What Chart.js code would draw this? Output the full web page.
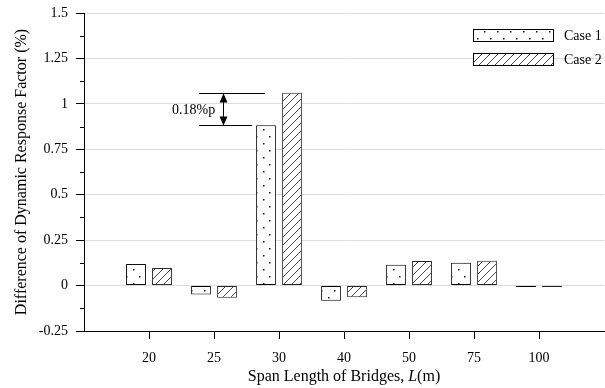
<!DOCTYPE html>
<html>
<head>
<meta charset="utf-8">
<script src="https://cdn.jsdelivr.net/npm/chart.js@4/dist/chart.umd.min.js"></script>
<style>
  html, body { margin: 0; padding: 0; background: #fff; }
  #wrap { width: 605px; height: 388px; position: relative; }
</style>
</head>
<body>
<div id="wrap"><canvas id="c" width="605" height="388"></canvas></div>
<script>
// ---- data ----
const spanLabels = ['20', '25', '30', '40', '50', '75', '100'];
const case1 = [0.119, -0.049, 0.882, -0.084, 0.115, 0.126, -0.008];
const case2 = [0.097, -0.067, 1.061, -0.064, 0.135, 0.137, -0.008];
const seriesNames = ['Case 1', 'Case 2'];
const annotationText = '0.18%p';
const yTitle = 'Difference of Dynamic Response Factor (%)';

// padded category axis: empty slots at both ends
const xLabels = [''].concat(spanLabels, ['']);
const pad = a => [null].concat(a, [null]);

const FONT = '"Liberation Serif", "Times New Roman", serif';

function dotPattern() {
  const c = document.createElement('canvas');
  c.width = 13; c.height = 14;
  const g = c.getContext('2d');
  g.fillStyle = '#fff'; g.fillRect(0, 0, 13, 14);
  g.fillStyle = '#111';
  g.fillRect(3, 3, 1.5, 1.5);
  g.fillRect(9, 10, 1.5, 1.5);
  return g.createPattern(c, 'repeat');
}
function hatchPattern() {
  const s = 8;
  const c = document.createElement('canvas');
  c.width = s; c.height = s;
  const g = c.getContext('2d');
  g.fillStyle = '#fff'; g.fillRect(0, 0, s, s);
  g.strokeStyle = '#444'; g.lineWidth = 1;
  g.beginPath();
  g.moveTo(-1, s + 1); g.lineTo(s + 1, -1);
  g.moveTo(-1, 1); g.lineTo(1, -1);
  g.moveTo(s - 1, s + 1); g.lineTo(s + 1, s - 1);
  g.stroke();
  return g.createPattern(c, 'repeat');
}
const pat1 = dotPattern();
const pat2 = hatchPattern();

const overlay = {
  id: 'overlay',
  afterDraw(chart) {
    const ctx = chart.ctx;
    const xs = chart.scales.x, ys = chart.scales.y, ca = chart.chartArea;
    ctx.save();
    // minor y ticks
    ctx.strokeStyle = '#000'; ctx.lineWidth = 1;
    for (let v = -0.125; v < 1.5; v += 0.25) {
      const y = Math.round(ys.getPixelForValue(v)) + 0.5;
      ctx.beginPath(); ctx.moveTo(ca.left - 4, y); ctx.lineTo(ca.left, y); ctx.stroke();
    }
    // y title
    ctx.fillStyle = '#000';
    ctx.font = '16px ' + FONT;
    ctx.textAlign = 'center'; ctx.textBaseline = 'middle';
    ctx.save();
    ctx.translate(22, (ca.top + ca.bottom) / 2);
    ctx.rotate(-Math.PI / 2);
    ctx.fillText(yTitle, 0, 0);
    ctx.restore();
    // x title with italic L
    const parts = [['Span Length of Bridges, ', ''], ['L', 'italic '], ['(m)', '']];
    let total = 0;
    parts.forEach(p => { ctx.font = p[1] + '16px ' + FONT; total += ctx.measureText(p[0]).width; });
    let x = (ca.left + ca.right) / 2 - total / 2;
    ctx.textAlign = 'left';
    parts.forEach(p => { ctx.font = p[1] + '16px ' + FONT; ctx.fillText(p[0], x, 377); x += ctx.measureText(p[0]).width; });

    // legend
    const lx = 473, lw = 80, lh = 12;
    [[29, pat1, seriesNames[0]], [53, pat2, seriesNames[1]]].forEach(r => {
      ctx.fillStyle = r[1];
      ctx.fillRect(lx, r[0], lw, lh);
      ctx.strokeStyle = '#000'; ctx.lineWidth = 1;
      ctx.strokeRect(lx + 0.5, r[0] + 0.5, lw, lh);
      ctx.fillStyle = '#000';
      ctx.font = '14px ' + FONT;
      ctx.textAlign = 'left'; ctx.textBaseline = 'middle';
      ctx.fillText(r[2], 564, r[0] + lh / 2 + 1);
    });

    // annotation at span 30
    const i30 = xLabels.indexOf('30');
    const cx = xs.getPixelForValue(i30);
    const yTop = Math.round(ys.getPixelForValue(case2[2])) + 0.5;
    const yBot = Math.round(ys.getPixelForValue(case1[2])) + 0.5;
    ctx.strokeStyle = '#000'; ctx.lineWidth = 1;
    ctx.beginPath();
    ctx.moveTo(cx - 80, yTop); ctx.lineTo(cx - 14, yTop);
    ctx.moveTo(cx - 80, yBot); ctx.lineTo(cx - 27, yBot);
    const ax = Math.round(cx - 56) + 0.5;
    ctx.moveTo(ax, yTop + 6); ctx.lineTo(ax, yBot - 6);
    ctx.stroke();
    ctx.fillStyle = '#000';
    ctx.beginPath(); ctx.moveTo(ax, yTop); ctx.lineTo(ax - 4, yTop + 9); ctx.lineTo(ax + 4, yTop + 9); ctx.closePath(); ctx.fill();
    ctx.beginPath(); ctx.moveTo(ax, yBot); ctx.lineTo(ax - 4, yBot - 9); ctx.lineTo(ax + 4, yBot - 9); ctx.closePath(); ctx.fill();
    ctx.font = '14px ' + FONT;
    ctx.textAlign = 'left'; ctx.textBaseline = 'middle';
    ctx.fillText(annotationText, cx - 107, (yTop + yBot) / 2 + 1);
    ctx.restore();
  }
};

new Chart(document.getElementById('c'), {
  type: 'bar',
  data: {
    labels: xLabels,
    datasets: [
      { label: seriesNames[0], data: pad(case1), backgroundColor: pat1, borderColor: '#000', borderWidth: 1, borderSkipped: false },
      { label: seriesNames[1], data: pad(case2), backgroundColor: pat2, borderColor: '#222', borderWidth: 1, borderSkipped: false }
    ]
  },
  options: {
    responsive: false,
    animation: false,
    devicePixelRatio: 1,
    layout: { padding: { top: 13, right: 1, left: 0, bottom: 0 } },
    datasets: { bar: { categoryPercentage: 0.8, barPercentage: 0.76, grouped: true } },
    plugins: { legend: { display: false }, tooltip: { enabled: false } },
    scales: {
      x: {
        offset: false,
        afterFit: s => { s.height = 57; s.paddingLeft = 0; s.paddingRight = 0; },
        grid: {
          offset: false,
          drawOnChartArea: false,
          tickLength: 8,
          tickColor: c => (xLabels[c.index] === '' ? 'rgba(0,0,0,0)' : '#000')
        },
        border: { display: true, color: '#000', width: 1 },
        ticks: { color: '#000', font: { family: FONT, size: 14 }, padding: 11, maxRotation: 0, autoSkip: false }
      },
      y: {
        min: -0.25, max: 1.5,
        afterFit: s => { s.width = 84; s.paddingTop = 0; s.paddingBottom = 0; },
        ticks: {
          stepSize: 0.25,
          color: '#000',
          padding: 8,
          font: { family: FONT, size: 14 },
          callback: v => String(Math.round(v * 1000) / 1000)
        },
        grid: {
          tickLength: 8,
          color: c => (c.tick && c.tick.value === -0.25 ? 'rgba(0,0,0,0)' : '#dcdcdc'),
          tickColor: '#000'
        },
        border: { display: true, color: '#000', width: 1 }
      }
    }
  },
  plugins: [overlay]
});
</script>
</body>
</html>
